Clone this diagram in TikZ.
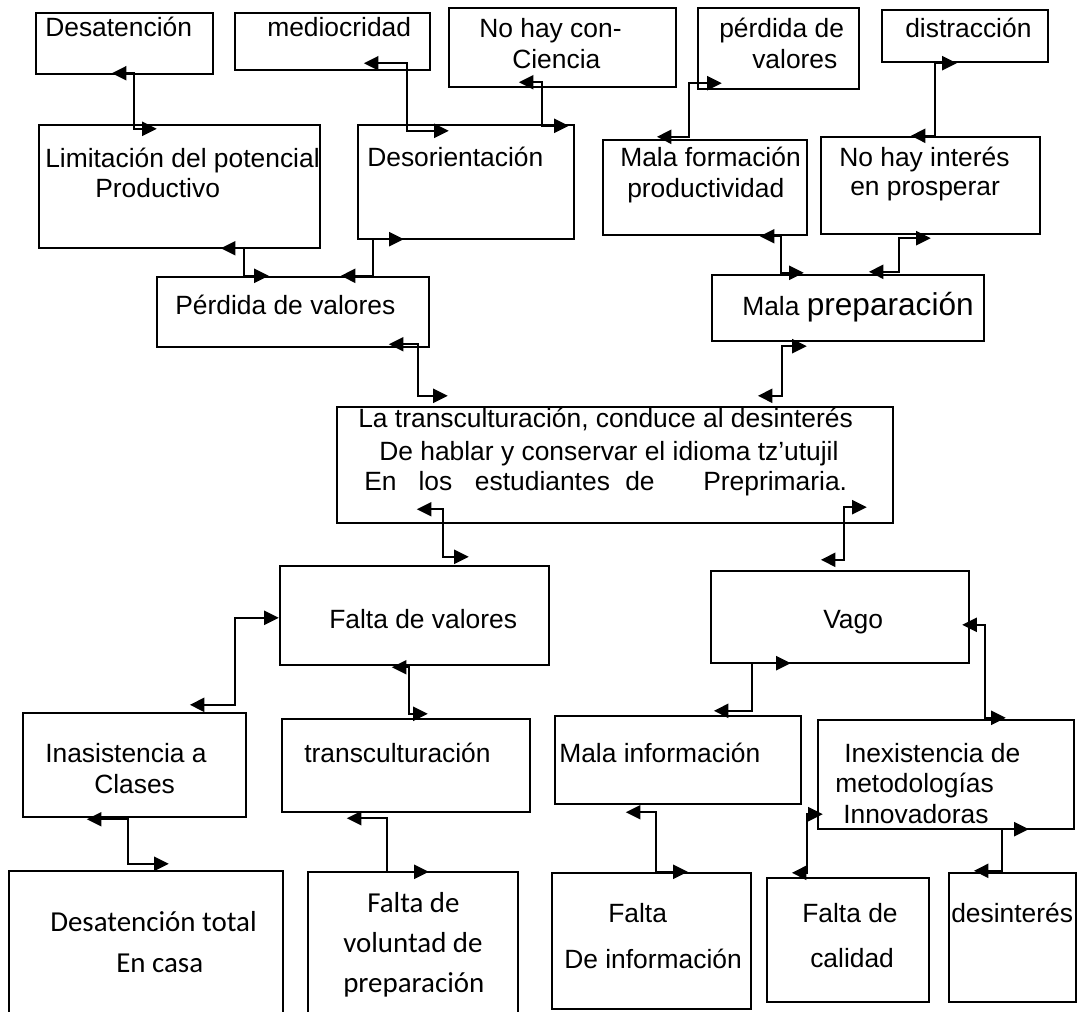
\documentclass[tikz,border=0pt]{standalone}
\usepackage{fontspec}
\setmainfont{Liberation Sans}
\newfontfamily\calib{Carlito}
\usetikzlibrary{fit,arrows.meta}
\begin{document}
\begin{tikzpicture}[x=0.75pt,y=-0.75pt,
  box/.style={draw, line width=1.8pt, inner sep=0pt, rectangle},
  txt/.style={inner sep=0pt, anchor=base west, font=\fontsize{19.8}{23}\selectfont},
  ctxt/.style={inner sep=0pt, anchor=base west, font=\calib\fontsize{21.7}{26}\selectfont},
  conn/.style={line width=1.7pt, {Triangle[length=11pt,width=10.5pt]}-{Triangle[length=11pt,width=10.5pt]}}]

\useasboundingbox (0,0) rectangle (1077,1011);
\fill[white] (0,0) rectangle (1077,1011);
\clip (0,0) rectangle (1077,1011);

% ---------- boxes ----------
\node[box, fit={(36,13) (213,74)}] (desat) {};
\node[box, fit={(235,13) (430,70)}] (medio) {};
\node[box, fit={(449,8) (676,87)}] (conc) {};
\node[box, fit={(698,8) (859,89)}] (pval2) {};
\node[box, fit={(882,10) (1048,62)}] (distr) {};

\node[box, fit={(39,125) (320,248)}] (limit) {};
\node[box, fit={(358,125) (574,239)}] (desor) {};
\node[box, fit={(603,140) (807,235)}] (malaf) {};
\node[box, fit={(821,137) (1040,234)}] (nohay) {};

\node[box, fit={(157,277) (429,347)}] (pvalor) {};
\node[box, fit={(712,275) (984,341)}] (malap) {};

\node[box, fit={(337,407) (893,523)}] (centro) {};

\node[box, fit={(280,566) (549,665)}] (fvalor) {};
\node[box, fit={(711,571) (969,663)}] (vago) {};

\node[box, fit={(23,713) (246,817)}] (inas) {};
\node[box, fit={(282,719) (530,812)}] (transc) {};
\node[box, fit={(555,716) (801,804)}] (malai) {};
\node[box, fit={(818,720) (1074,829)}] (inex) {};

\node[box, fit={(9,871) (283,1030)}] (desatt) {};
\node[box, fit={(308,872) (518,1030)}] (fvol) {};
\node[box, fit={(552,873) (751,1009)}] (finfo) {};
\node[box, fit={(767,878) (929,1002)}] (fcal) {};
\node[box, fit={(949,873) (1076,1002)}] (desint) {};

% ---------- texts ----------
\node[txt] (t1) at (45,36) {Desatención};
\node[txt] (t2) at (267,36) {mediocridad};
\node[txt] (t3a) at (479,37) {No hay con-};
\node[txt] (t3b) at (512,68) {Ciencia};
\node[txt] (t4a) at (719,37) {pérdida de};
\node[txt] (t4b) at (752,68) {valores};
\node[txt] (t5) at (905,37) {distracción};

\node[txt] (t6a) at (45,167) {Limitación del potencial};
\node[txt] (t6b) at (95,197) {Productivo};
\node[txt] (t7) at (367,166) {Desorientación};
\node[txt] (t8a) at (620,166) {Mala formación};
\node[txt] (t8b) at (627,197) {productividad};
\node[txt] (t9a) at (839,166) {No hay interés};
\node[txt] (t9b) at (850,195) {en prosperar};

\node[txt] (t10) at (175,314) {Pérdida de valores};
\node[txt] (t11) at (742,315) {Mala {\fontsize{23.7}{27}\selectfont preparación}};

\node[txt] (t12a) at (358,427) {La transculturación, conduce al desinterés};
\node[txt] (t12b) at (379,460) {De hablar y conservar el idioma tz’utujil};
\node[txt] (t12c) at (364,490) {En\hspace{16.5pt}los\hspace{17pt}estudiantes\hspace{11.5pt}de\hspace{36.5pt}Preprimaria.};

\node[txt] (t13) at (329,628) {Falta de valores};
\node[txt] (t14) at (823,628) {Vago};

\node[txt] (t15a) at (45,762) {Inasistencia a};
\node[txt] (t15b) at (94,793) {Clases};
\node[txt] (t16) at (304,762) {transculturación};
\node[txt] (t17) at (559,762) {Mala información};
\node[txt] (t18a) at (844,762) {Inexistencia de};
\node[txt] (t18b) at (835,792) {metodologías};
\node[txt] (t18c) at (843,823) {Innovadoras};

\node[ctxt] (t19a) at (50,931) {Desatención total};
\node[ctxt] (t19b) at (116,972) {En casa};
\node[ctxt] (t20a) at (367,912) {Falta de};
\node[ctxt] (t20b) at (343,952) {voluntad de};
\node[ctxt] (t20c) at (343,992) {preparación};
\node[txt] (t21a) at (608,922) {Falta};
\node[txt] (t21b) at (564,968) {De información};
\node[txt] (t22a) at (802,922) {Falta de};
\node[txt] (t22b) at (810,967) {calidad};
\node[txt] (t23) at (951,922) {desinterés};

% ---------- connectors ----------
\draw[conn] ([shift={(77,-2)}]desat.south west) -- ++(22,0) |- ([shift={(119,5)}]limit.north west);
\draw[conn] ([shift={(183,-1)}]limit.south west) -- ++(23,0) |- ([shift={(113,0)}]pvalor.north west);
\draw[conn] ([shift={(47,-1)}]desor.south west) -- ++(-31,0) |- ([shift={(185,0)}]pvalor.north west);
\draw[conn] ([shift={(130,-8)}]medio.south west) -- ++(43,0) |- ([shift={(92,7)}]desor.north west);
\draw[conn] ([shift={(71,-6)}]conc.south west) -- ++(23,0) |- ([shift={(212,2)}]desor.north west);
\draw[conn] ([shift={(25,-7)}]pval2.south west) -- ++(-33,0) |- ([shift={(55,-2)}]malaf.north west);
\draw[conn] ([shift={(76,0)}]distr.south west) -- ++(-22,0) |- ([shift={(91,0)}]nohay.north west);
\draw[conn] ([shift={(158,0)}]malaf.south west) -- ++(21,0) |- ([shift={(93,-1)}]malap.north west);
\draw[conn] ([shift={(111,3)}]nohay.south west) -- ++(-32,0) |- ([shift={(158,-2)}]malap.north west);
\draw[conn] ([shift={(233,-4)}]pvalor.south west) -- ++(29,0) |- ([shift={(112,-10)}]centro.north west);
\draw[conn] ([shift={(96,4)}]malap.south west) -- ++(-25,0) |- ([shift={(422,-10)}]centro.north west);
\draw[conn] ([shift={(81,-15)}]centro.south west) -- ++(26,0) |- ([shift={(190,-8)}]fvalor.north west);
\draw[conn] ([shift={(531,-17)}]centro.south west) -- ++(-23,0) |- ([shift={(111,-10)}]vago.north west);
\draw[conn] ([shift={(0,53)}]fvalor.north west) -- ++(-44,0) |- ([shift={(168,-7)}]inas.north west);
\draw[conn] ([shift={(113,1)}]fvalor.south west) -- ++(17,0) |- ([shift={(147,-4)}]transc.north west);
\draw[conn] ([shift={(81,-1)}]vago.south west) -- ++(-39,0) |- ([shift={(160,-4)}]malai.north west);
\draw[conn] ([shift={(-8,55)}]vago.north east) -- ++(23,0) |- ([shift={(189,-1)}]inex.north west);
\draw[conn] ([shift={(65,1)}]inas.south west) -- ++(41,0) |- ([shift={(161,-6)}]desatt.north west);
\draw[conn] ([shift={(66,5)}]transc.south west) -- ++(40,0) |- ([shift={(122,1)}]fvol.north west);
\draw[conn] ([shift={(72,7)}]malai.south west) -- ++(30,0) |- ([shift={(137,0)}]finfo.north west);
\draw[conn] ([shift={(6,-16)}]inex.south west) -- ++(-16,0) |- ([shift={(26,-4)}]fcal.north west);
\draw[conn] ([shift={(212,-1)}]inex.south west) -- ++(-27,0) |- ([shift={(26,-1)}]desint.north west);
\end{tikzpicture}
\end{document}
